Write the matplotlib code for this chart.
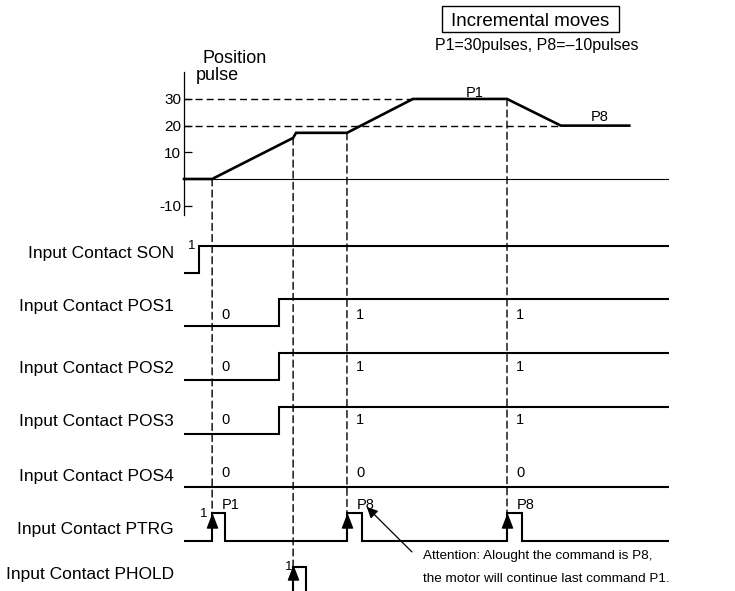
import matplotlib
matplotlib.use('Agg')
import matplotlib.pyplot as plt
from matplotlib.patches import ConnectionPatch, Rectangle
from matplotlib.path import Path
import numpy as np

plt.rcParams['font.family'] = ['Liberation Sans', 'DejaVu Sans']

# ---------------- data ----------------
t_end = 100.0
# position (pulses) trace
pos_t = [0, 5.8, 22.5, 23.1, 33.6, 47.2, 66.6, 77.7, 91.8]
pos_v = [0, 0, 15.4, 17.3, 17.3, 30, 30, 20, 20]
pos_ticks = [30, 20, 10, -10]
ref_levels = [30, 20]
ref_end_t = [47.2, 77.7]
pos_cmd_labels = ['P1', 'P8']
pos_cmd_t = [60.0, 85.8]
pos_cmd_v = [30.75, 21.75]

# digital inputs (transition times)
signal_names = ['Input Contact SON', 'Input Contact POS1', 'Input Contact POS2',
                'Input Contact POS3', 'Input Contact POS4', 'Input Contact PTRG',
                'Input Contact PHOLD']
son_edges = [3.1]
pos1_edges = [19.6]
pos2_edges = [19.6]
pos3_edges = [19.6]
pos4_edges = []
ptrg_rise = [5.8, 33.6, 66.6]
ptrg_fall = [8.45, 36.7, 69.7]
ptrg_cmd = ['P1', 'P8', 'P8']
phold_edges = [22.5, 25.2]

# ---------------- layout ----------------
W, H = 735, 591
X0, X1 = 184, 669
pos_top, pos_bot = 72, 215
pos_ylim = (-13.5, 40.1)
row_high = [246, 299, 353, 407, 460, 513, 567]
row_amp = [27, 27, 27, 27, 27, 28, 27]
label_base = [258, 311, 373, 426, 481, 534, 579]
state_off = {1: 20, 2: 18, 3: 17, 4: 17}

LW_SIG = 1.5
DASH = dict(color='black', lw=1.0, linestyle=(0, (5, 3)))


def rect(l, t, r, b):
    return [l / W, 1 - b / H, (r - l) / W, (b - t) / H]


def step_xy(edges, t0, t1, init=0):
    xs, ys, lvl = [t0], [init], init
    for e in edges:
        xs += [e, e]
        ys += [lvl, 1 - lvl]
        lvl = 1 - lvl
    xs.append(t1)
    ys.append(lvl)
    return xs, ys


def level_at(edges, t):
    return int(sum(1 for e in edges if e <= t) % 2)


fig = plt.figure(figsize=(W / 100, H / 100), dpi=100)

# ---------------- position plot ----------------
axp = fig.add_axes(rect(X0, pos_top, X1, pos_bot))
axp.set_xlim(0, t_end)
axp.set_ylim(*pos_ylim)
axp.patch.set_visible(False)
for s in ['top', 'right', 'bottom']:
    axp.spines[s].set_visible(False)
axp.spines['left'].set_linewidth(0.9)
axp.set_xticks([])
axp.set_yticks(pos_ticks)
axp.set_yticklabels([str(v) for v in pos_ticks])
axp.tick_params(axis='y', direction='in', length=6, width=0.9, pad=2, labelsize=11)
axp.axhline(0, color='black', lw=0.8)
for lvl, te in zip(ref_levels, ref_end_t):
    axp.plot([0, te], [lvl, lvl], **DASH)
axp.plot(pos_t, pos_v, color='black', lw=1.9, solid_joinstyle='miter', clip_on=False)
for s, t, v in zip(pos_cmd_labels, pos_cmd_t, pos_cmd_v):
    axp.text(t, v, s, ha='center', va='baseline', fontsize=10.5)

fig.text(202 / W, 1 - 63 / H, 'Position', fontsize=13, va='baseline', ha='left')
fig.text(196 / W, 1 - 80 / H, 'pulse', fontsize=13, va='baseline', ha='left')

# ---------------- signal rows ----------------
edges_list = [son_edges, pos1_edges, pos2_edges, pos3_edges, pos4_edges,
              sorted(ptrg_rise + ptrg_fall), phold_edges]
axes_rows = []
for i, (name, edges) in enumerate(zip(signal_names, edges_list)):
    hi = row_high[i]
    ax = fig.add_axes(rect(X0, hi, X1, hi + row_amp[i]))
    ax.set_xlim(0, t_end)
    ax.set_ylim(0, 1)
    ax.axis('off')
    ax.patch.set_visible(False)
    if i == 6:
        xs, ys = step_xy(edges, edges[0], edges[-1])
    else:
        xs, ys = step_xy(edges, 0, t_end)
    ax.plot(xs, ys, color='black', lw=LW_SIG, clip_on=False,
            solid_joinstyle='miter', solid_capstyle='butt')
    fig.text(174 / W, 1 - label_base[i] / H, name, ha='right', va='baseline',
             fontsize=12.5)
    axes_rows.append(ax)

# state labels on POS rows
for i in range(1, 5):
    ax = axes_rows[i]
    y = 1 - state_off[i] / row_amp[i]
    for t in ptrg_rise:
        ax.text(t + 1.9, y, str(level_at(edges_list[i], t)), ha='left',
                va='baseline', fontsize=10.5)

# "1" markers at rising edges
ax_son, ax_ptrg, ax_phold = axes_rows[0], axes_rows[5], axes_rows[6]
ax_son.annotate('1', (son_edges[0], 1), xytext=(-5, -2.2), textcoords='offset points',
                ha='center', va='baseline', fontsize=9.5, annotation_clip=False)
ax_ptrg.annotate('1', (ptrg_rise[0], 1), xytext=(-5.8, -2.9), textcoords='offset points',
                 ha='center', va='baseline', fontsize=9.5, annotation_clip=False)
ax_phold.annotate('1', (phold_edges[0], 1), xytext=(-3, -2.2), textcoords='offset points',
                  ha='center', va='baseline', fontsize=9.5, annotation_clip=False)

# command labels over PTRG pulses
for t, s in zip(ptrg_rise, ptrg_cmd):
    ax_ptrg.annotate(s, (t, 1), xytext=(7.2, 2.9), textcoords='offset points',
                     ha='left', va='baseline', fontsize=10.5, annotation_clip=False)

# arrow heads on trigger edges
tri = Path([(0, 1), (-0.77, -1), (0.77, -1), (0, 1)],
           [Path.MOVETO, Path.LINETO, Path.LINETO, Path.CLOSEPOLY])
ax_ptrg.plot(ptrg_rise, [0.73] * len(ptrg_rise), ls='none', marker=tri, ms=9.4,
             color='black', clip_on=False)
ax_phold.plot([phold_edges[0]], [0.76], ls='none', marker=tri, ms=9.4,
              color='black', clip_on=False)

# vertical dashed guide lines
for t in ptrg_rise:
    v = float(np.interp(t, pos_t, pos_v))
    fig.add_artist(ConnectionPatch((t, v), (t, 1), coordsA=axp.transData,
                                   coordsB=ax_ptrg.transData, **DASH))
v = float(np.interp(phold_edges[0], pos_t, pos_v))
fig.add_artist(ConnectionPatch((phold_edges[0], v), (phold_edges[0], 1),
                               coordsA=axp.transData, coordsB=ax_phold.transData, **DASH))

# attention note
ax_ptrg.annotate('', xy=(37.7, 1.21), xytext=(47.0, -0.39),
                 arrowprops=dict(arrowstyle='-|>', lw=0.9, color='black',
                                 mutation_scale=16, shrinkA=0, shrinkB=0),
                 annotation_clip=False)
fig.text(423 / W, 1 - 559 / H, 'Attention: Alought the command is P8,',
         fontsize=9.7, ha='left', va='baseline')
fig.text(423 / W, 1 - 582 / H, 'the motor will continue last command P1.',
         fontsize=9.7, ha='left', va='baseline')

# title box
fig.add_artist(Rectangle((442 / W, 1 - 32 / H), 177 / W, 26 / H,
                         transform=fig.transFigure, fill=False, ec='black', lw=1.0))
fig.text(530 / W, 1 - 26 / H, 'Incremental moves', fontsize=13.5,
         ha='center', va='baseline')
fig.text(537 / W, 1 - 50 / H, 'P1=30pulses, P8=\u201310pulses', fontsize=11.5,
         ha='center', va='baseline')

fig.savefig('out.png', dpi=100)
